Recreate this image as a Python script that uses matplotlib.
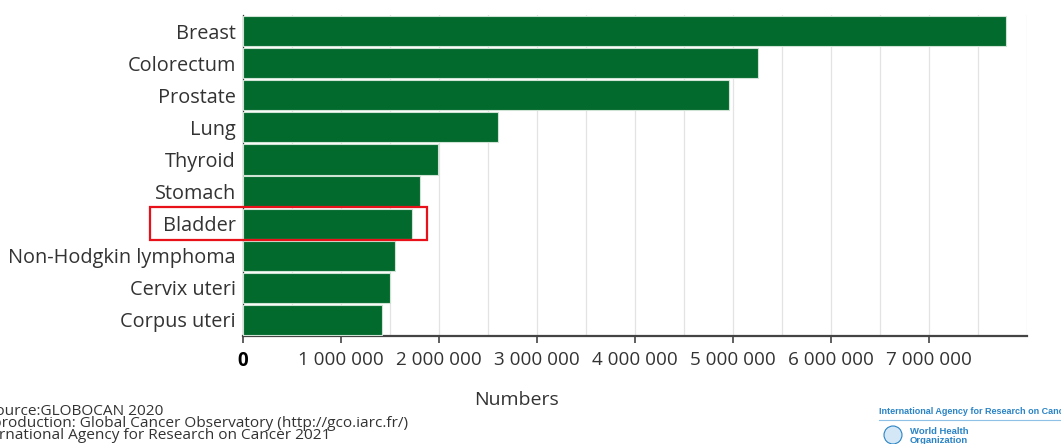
import matplotlib
matplotlib.use("Agg")
import matplotlib.pyplot as plt
from matplotlib.patches import Rectangle, Circle
from matplotlib.ticker import FixedLocator, MultipleLocator, FuncFormatter

# 5-year prevalence, both sexes (GLOBOCAN 2020)
cancer_sites = ["Breast", "Colorectum", "Prostate", "Lung", "Thyroid",
                "Stomach", "Bladder", "Non-Hodgkin lymphoma", "Cervix uteri",
                "Corpus uteri"]
prevalence = [7790717, 5253335, 4956901, 2604791, 1984927,
              1805968, 1720625, 1550878, 1495211, 1415880]
x_ticks = [0, 1000000, 2000000, 3000000, 4000000, 5000000, 6000000, 7000000]
highlight_site = "Bladder"

W, H = 1061, 444
plt.rcParams["font.family"] = ["Open Sans", "DejaVu Sans"]

fig = plt.figure(figsize=(W / 100, H / 100), dpi=100)
ax = fig.add_axes([243 / W, 1 - 336 / H, 784 / W, 321 / H])

bar_green = "#036a2e"
positions = list(range(len(cancer_sites)))
ax.barh(positions, prevalence, height=0.94, color=bar_green,
        edgecolor="#cfe3d5", linewidth=0.8, zorder=3)

ax.set_xlim(0, 8000000)
ax.set_ylim(len(cancer_sites) - 0.5, -0.5)

ax.set_yticks(positions)
ax.set_yticklabels(cancer_sites, fontsize=14.3, color="#333333")
ax.tick_params(axis="y", length=0, pad=5)

ax.xaxis.set_major_locator(FixedLocator(x_ticks))
ax.xaxis.set_minor_locator(MultipleLocator(500000))


def spaced(v, _pos):
    return f"{int(v):,}".replace(",", " ")


ax.xaxis.set_major_formatter(FuncFormatter(spaced))
ax.tick_params(axis="x", which="major", length=5, width=1.2, color="#444444",
               labelsize=13.6, labelcolor="#333333", pad=6)
ax.tick_params(axis="x", which="minor", length=0)
for lbl in ax.get_xticklabels():
    if lbl.get_text() == "0":
        lbl.set_fontweight("bold")
        lbl.set_color("#000000")

ax.grid(axis="x", which="both", color="#e3e3e3", linewidth=0.9, zorder=0)
ax.set_axisbelow(True)

for side in ("top", "right"):
    ax.spines[side].set_visible(False)
ax.spines["bottom"].set_color("#444444")
ax.spines["bottom"].set_linewidth(1.6)
ax.spines["left"].set_color("#2b3b30")
ax.spines["left"].set_linewidth(0.9)

# highlight box around the selected site
hi = cancer_sites.index(highlight_site)
x0 = -950000
box = Rectangle((x0, hi - 0.515), prevalence[hi] + 160000 - x0, 1.03,
                fill=False, edgecolor="#e8111a", linewidth=1.6,
                clip_on=False, zorder=5)
ax.add_patch(box)

# axis title
fig.text(517 / W, 1 - 400 / H, "Numbers", fontsize=14, color="#333333",
         ha="center", va="center")

# source notes (left edge runs past the figure border)
notes = ["Source:GLOBOCAN 2020",
         "Reproduction: Global Cancer Observatory (http://gco.iarc.fr/)",
         "International Agency for Research on Cancer 2021"]
note_left = [-13, -26, -29]
for i, (txt, px) in enumerate(zip(notes, note_left)):
    fig.text(px / W, 1 - (415 + 12 * i) / H, txt, fontsize=11.1,
             color="#333333", ha="left", va="baseline")

# agency logos
blue = "#2a84c6"
logo_font = ["Liberation Sans", "DejaVu Sans"]
fig.text(879 / W, 1 - 414 / H, "International Agency for Research on Cancer",
         fontsize=6.5, fontweight="bold", color=blue, ha="left", va="baseline",
         family=logo_font)
fig.add_artist(plt.Line2D([879 / W, 1.0], [1 - 420 / H, 1 - 420 / H],
                          color="#8fc1e6", linewidth=0.8))
fig.add_artist(Circle((8.93, (H - 435) / 100), 0.09,
                      transform=fig.dpi_scale_trans,
                      facecolor="#d3e7f6", edgecolor=blue, linewidth=0.8))
fig.text(910 / W, 1 - 434 / H, "World Health", fontsize=6.8, fontweight="bold",
         color=blue, ha="left", va="baseline", family=logo_font)
fig.text(910 / W, 1 - 443 / H, "Organization", fontsize=6.8, fontweight="bold",
         color=blue, ha="left", va="baseline", family=logo_font)

fig.savefig("out.png", dpi=100, facecolor="white")
